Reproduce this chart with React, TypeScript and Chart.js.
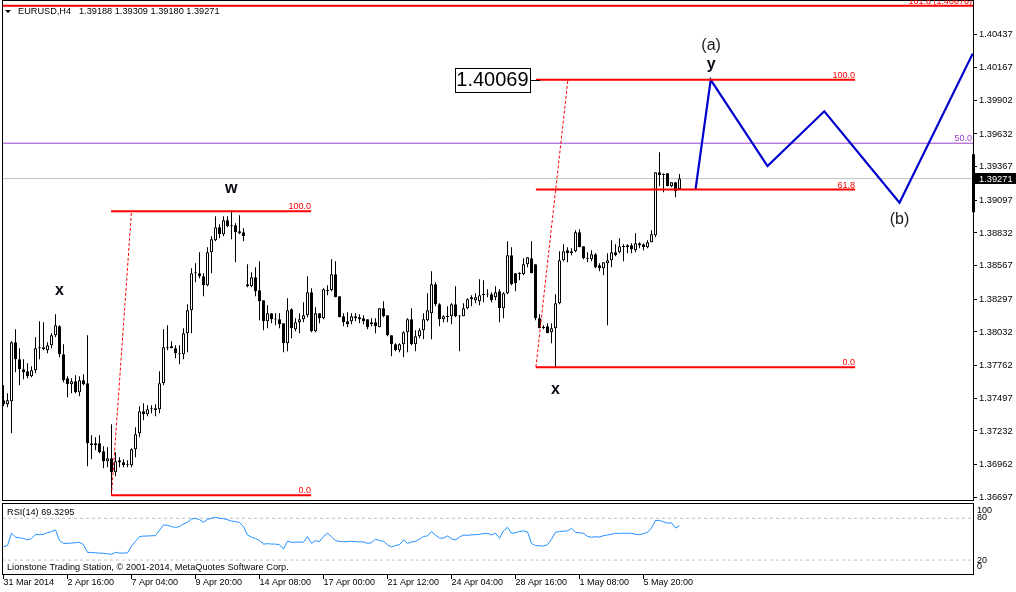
import React, { useEffect, useRef } from 'react';
import { Chart, registerables } from 'chart.js';

Chart.register(...registerables);

const FONT = '"Liberation Sans", Arial, sans-serif';

const symbolName = 'EURUSD,H4';

const openPrices = [
  1.37480, 1.37448, 1.37472, 1.37949, 1.37811, 1.37730, 1.37714, 1.37674, 1.37722, 1.37900,
  1.37908, 1.37884, 1.37924, 1.38005, 1.38078, 1.37852, 1.37658, 1.37609, 1.37633, 1.37545,
  1.37642, 1.37617, 1.37133, 1.37133, 1.37133, 1.37068, 1.36987, 1.37011, 1.36898, 1.36979,
  1.36979, 1.36955, 1.36955, 1.37084, 1.37213, 1.37391, 1.37367, 1.37407, 1.37399, 1.37407,
  1.37617, 1.37900, 1.37916, 1.37900, 1.37860, 1.37852, 1.38021, 1.38207, 1.38506, 1.38506,
  1.38482, 1.38409, 1.38676, 1.38773, 1.38878, 1.38821, 1.38934, 1.38894, 1.38894, 1.38845,
  1.38837, 1.38417, 1.38401, 1.38474, 1.38369, 1.38288, 1.38118, 1.38183, 1.38134, 1.38134,
  1.38102, 1.37941, 1.38215, 1.38054, 1.38110, 1.38134, 1.38167, 1.38353, 1.38038, 1.38183,
  1.38143, 1.38369, 1.38369, 1.38498, 1.38320, 1.38159, 1.38118, 1.38118, 1.38159, 1.38151,
  1.38143, 1.38134, 1.38094, 1.38110, 1.38070, 1.38223, 1.38167, 1.38005, 1.37932, 1.37884,
  1.37932, 1.38029, 1.38134, 1.37932, 1.37997, 1.38046, 1.38126, 1.38183, 1.38417, 1.38256,
  1.38134, 1.38159, 1.38159, 1.38256, 1.38159, 1.38159, 1.38223, 1.38296, 1.38288, 1.38280,
  1.38337, 1.38337, 1.38337, 1.38312, 1.38361, 1.38223, 1.38345, 1.38652, 1.38506, 1.38506,
  1.38498, 1.38579, 1.38627, 1.38579, 1.38143, 1.38070, 1.38078, 1.38029, 1.38062, 1.38264,
  1.38611, 1.38692, 1.38668, 1.38684, 1.38837, 1.38724, 1.38627, 1.38619, 1.38660, 1.38571,
  1.38547, 1.38587, 1.38611, 1.38676, 1.38676, 1.38724, 1.38716, 1.38732, 1.38692, 1.38748,
  1.38740, 1.38716, 1.38757, 1.38813, 1.39322, 1.39306, 1.39314, 1.39209, 1.39241, 1.39188,
];

const highPrices = [
  1.37601, 1.37537, 1.37957, 1.38054, 1.37900, 1.37811, 1.37779, 1.37755, 1.37989, 1.38118,
  1.38110, 1.37949, 1.38021, 1.38175, 1.38086, 1.37932, 1.37674, 1.37658, 1.37682, 1.37674,
  1.37690, 1.38005, 1.37197, 1.37181, 1.37197, 1.37108, 1.37100, 1.37286, 1.37060, 1.37019,
  1.37003, 1.36995, 1.37092, 1.37262, 1.37431, 1.37456, 1.37440, 1.37440, 1.37448, 1.37714,
  1.38054, 1.38086, 1.37957, 1.37924, 1.37924, 1.38062, 1.38256, 1.38547, 1.38587, 1.38676,
  1.38506, 1.38716, 1.38805, 1.38967, 1.38902, 1.38967, 1.38967, 1.39015, 1.38910, 1.38975,
  1.38870, 1.38579, 1.38514, 1.38555, 1.38603, 1.38288, 1.38248, 1.38183, 1.38183, 1.38183,
  1.38102, 1.38304, 1.38223, 1.38143, 1.38183, 1.38272, 1.38482, 1.38385, 1.38231, 1.38183,
  1.38385, 1.38409, 1.38619, 1.38603, 1.38320, 1.38183, 1.38191, 1.38183, 1.38183, 1.38175,
  1.38167, 1.38134, 1.38143, 1.38143, 1.38223, 1.38280, 1.38167, 1.38005, 1.37941, 1.37941,
  1.38038, 1.38143, 1.38223, 1.38046, 1.38062, 1.38183, 1.38345, 1.38522, 1.38433, 1.38264,
  1.38167, 1.38240, 1.38264, 1.38401, 1.38167, 1.38264, 1.38304, 1.38328, 1.38345, 1.38458,
  1.38450, 1.38377, 1.38353, 1.38401, 1.38377, 1.38353, 1.38765, 1.38716, 1.38506, 1.38514,
  1.38627, 1.38636, 1.38765, 1.38579, 1.38175, 1.38086, 1.38102, 1.38102, 1.38337, 1.38684,
  1.38740, 1.38716, 1.38708, 1.38854, 1.38862, 1.38724, 1.38676, 1.38692, 1.38668, 1.38587,
  1.38595, 1.38668, 1.38773, 1.38740, 1.38789, 1.38740, 1.38740, 1.38748, 1.38829, 1.38757,
  1.38748, 1.38773, 1.38854, 1.39322, 1.39484, 1.39314, 1.39314, 1.39241, 1.39241, 1.39309,
];

const lowPrices = [
  1.37431, 1.37423, 1.37213, 1.37706, 1.37601, 1.37650, 1.37658, 1.37666, 1.37698, 1.37811,
  1.37884, 1.37860, 1.37900, 1.37989, 1.37827, 1.37625, 1.37504, 1.37537, 1.37537, 1.37512,
  1.37601, 1.36947, 1.37003, 1.37076, 1.37052, 1.36931, 1.36939, 1.36712, 1.36866, 1.36939,
  1.36939, 1.36939, 1.36939, 1.37020, 1.37181, 1.37318, 1.37351, 1.37375, 1.37351, 1.37375,
  1.37601, 1.37884, 1.37900, 1.37819, 1.37771, 1.37811, 1.37868, 1.38021, 1.38433, 1.38466,
  1.38320, 1.38401, 1.38506, 1.38765, 1.38789, 1.38805, 1.38878, 1.38781, 1.38595, 1.38821,
  1.38765, 1.38393, 1.38393, 1.38320, 1.38126, 1.38046, 1.38062, 1.38102, 1.38086, 1.38062,
  1.37868, 1.37876, 1.37981, 1.38038, 1.38021, 1.38110, 1.38151, 1.38029, 1.38029, 1.38102,
  1.38134, 1.38328, 1.38361, 1.38312, 1.38151, 1.38078, 1.38070, 1.38094, 1.38118, 1.38102,
  1.38094, 1.38054, 1.38078, 1.38021, 1.38070, 1.38151, 1.37997, 1.37836, 1.37876, 1.37868,
  1.37827, 1.37868, 1.37924, 1.37876, 1.37981, 1.37973, 1.38118, 1.37973, 1.38240, 1.38078,
  1.38110, 1.38110, 1.38094, 1.38151, 1.37876, 1.38159, 1.38215, 1.38240, 1.38264, 1.38248,
  1.38272, 1.38312, 1.38272, 1.38288, 1.38110, 1.38143, 1.38337, 1.38409, 1.38361, 1.38450,
  1.38490, 1.38555, 1.38506, 1.38126, 1.38062, 1.38054, 1.38021, 1.37941, 1.37747, 1.38256,
  1.38603, 1.38595, 1.38652, 1.38676, 1.38716, 1.38619, 1.38595, 1.38603, 1.38547, 1.38522,
  1.38490, 1.38086, 1.38555, 1.38644, 1.38668, 1.38603, 1.38668, 1.38668, 1.38676, 1.38708,
  1.38692, 1.38708, 1.38757, 1.38797, 1.39209, 1.39161, 1.39209, 1.39201, 1.39120, 1.39180,
];

const closePrices = [
  1.37448, 1.37480, 1.37949, 1.37811, 1.37730, 1.37706, 1.37674, 1.37722, 1.37900, 1.37908,
  1.37892, 1.37924, 1.38005, 1.38086, 1.37852, 1.37642, 1.37609, 1.37633, 1.37545, 1.37642,
  1.37609, 1.37133, 1.37116, 1.37116, 1.37060, 1.36987, 1.37011, 1.36898, 1.36987, 1.36995,
  1.36955, 1.36963, 1.37084, 1.37205, 1.37391, 1.37367, 1.37407, 1.37415, 1.37415, 1.37617,
  1.37908, 1.37908, 1.37900, 1.37860, 1.37852, 1.38021, 1.38207, 1.38506, 1.38514, 1.38482,
  1.38409, 1.38676, 1.38781, 1.38878, 1.38821, 1.38934, 1.38886, 1.38886, 1.38837, 1.38829,
  1.38805, 1.38401, 1.38474, 1.38361, 1.38280, 1.38118, 1.38183, 1.38134, 1.38138, 1.38094,
  1.37941, 1.38207, 1.38062, 1.38110, 1.38134, 1.38167, 1.38353, 1.38038, 1.38183, 1.38143,
  1.38377, 1.38365, 1.38498, 1.38312, 1.38151, 1.38110, 1.38094, 1.38159, 1.38143, 1.38134,
  1.38118, 1.38070, 1.38110, 1.38078, 1.38223, 1.38159, 1.38005, 1.37932, 1.37884, 1.37932,
  1.38029, 1.38134, 1.37932, 1.37997, 1.38046, 1.38134, 1.38207, 1.38417, 1.38256, 1.38134,
  1.38159, 1.38155, 1.38256, 1.38159, 1.38163, 1.38223, 1.38296, 1.38312, 1.38312, 1.38328,
  1.38333, 1.38341, 1.38288, 1.38353, 1.38223, 1.38345, 1.38652, 1.38417, 1.38425, 1.38502,
  1.38579, 1.38636, 1.38506, 1.38143, 1.38062, 1.38066, 1.38021, 1.38062, 1.38264, 1.38611,
  1.38684, 1.38668, 1.38684, 1.38837, 1.38716, 1.38627, 1.38619, 1.38660, 1.38555, 1.38547,
  1.38595, 1.38611, 1.38676, 1.38652, 1.38724, 1.38720, 1.38732, 1.38700, 1.38748, 1.38732,
  1.38716, 1.38757, 1.38821, 1.39322, 1.39298, 1.39302, 1.39209, 1.39241, 1.39169, 1.39271,
];

const rsiValues = [
  39, 41, 58.5, 53, 52, 51, 49, 51, 57, 56.5,
  57, 59.5, 61, 63.3, 48, 44, 44, 44.5, 45, 45.6,
  42, 31, 31, 30.5, 30, 29.7, 29, 28.3, 31, 30,
  30, 30.5, 40, 47, 53.7, 54.5, 54.5, 55, 55, 63,
  70.5, 70, 68, 67, 68, 72, 74.3, 79, 80, 78,
  74.3, 78.5, 80, 81.5, 80, 79.5, 78, 76, 75.3, 74,
  68, 56, 52.8, 51, 48, 43, 43.5, 43, 43, 42,
  36, 47, 45.5, 45.7, 46, 45.5, 53.7, 44, 48, 46.5,
  54, 58.5, 53.5, 48, 46.8, 46.3, 46.6, 46.9, 46.4, 46.2,
  46, 44, 45, 50, 48, 47, 42, 39, 41, 42,
  49, 44, 46, 47, 50, 54, 54.7, 61, 56, 51.5,
  51.5, 54.7, 50.5, 49, 53, 56, 55.6, 56.2, 56.5, 57,
  58, 58.5, 56, 58.5, 51.3, 62, 67, 58.5, 59.5, 61,
  62, 60.5, 44, 40.8, 40.5, 40.2, 42, 50, 60, 61,
  61.5, 61.8, 65.7, 60, 59, 58.5, 54, 52.8, 53.5, 53.2,
  55, 56, 57, 58.5, 58.2, 58.7, 58.4, 58.6, 57, 56.5,
  58, 60, 66, 77, 77, 75, 73, 73.5, 66, 69.33,
];
const rsiLevels = [80, 20];
const rsiAxisLabels = ['100', '80', '20', '0'];
const rsiAxisValues = [100, 80, 20, 0];
const rsiTitle = 'RSI(14) 69.3295';
const copyrightText = 'Lionstone Trading Station, \u00A9 2001-2014, MetaQuotes Software Corp.';

const timeLabels = [
  '31 Mar 2014', '2 Apr 16:00', '7 Apr 04:00', '9 Apr 20:00', '14 Apr 08:00', '17 Apr 00:00',
  '21 Apr 12:00', '24 Apr 04:00', '28 Apr 16:00', '1 May 08:00', '5 May 20:00',
];
const timeLabelBars = [0, 16, 32, 48, 64, 80, 96, 112, 128, 144, 160];

const priceTicks = [
  1.40437, 1.40167, 1.39902, 1.39632, 1.39367, 1.39097, 1.38832, 1.38567, 1.38297, 1.38032,
  1.37762, 1.37497, 1.37232, 1.36962, 1.36697,
];
const currentPrice = 1.39271;
const axisMarkPrices = [1.39468, 1.38999];

const projectionBars = [173, 176.8, 191, 205.2, 224, 242.3];
const projectionPrices = [1.39182, 1.40069, 1.39373, 1.39815, 1.39077, 1.40281];

const fib1Bars = [26.9, 76.9];
const fib1Levels = [1.39007, 1.36712];
const fib1Names = ['100.0', '0.0'];
const fib1DiagBars = [27, 32];
const fib1DiagPrices = [1.36712, 1.39007];

const fib2Bars = [133.1, 212.9];
const fib2Levels = [1.40069, 1.39182, 1.37747];
const fib2Names = ['100.0', '61.8', '0.0'];
const fib2DiagBars = [133.1, 141.1];
const fib2DiagPrices = [1.37747, 1.40069];
const priceBoxBars = [131.6, 134.1];

const purpleLevel = 1.39557;
const purpleName = '50.0';
const topLevel = 1.40668;
const topName = '161.8 (1.40676)';

const waveTexts = ['x', 'w', 'x', '(a)', 'y', '(b)'];
const waveBars = [14, 56.9, 138, 176.9, 176.9, 224];
const wavePrices = [1.38328, 1.39153, 1.37533, 1.40308, 1.40155, 1.38906];
const waveBold = [true, true, true, false, true, false];

const X_MIN = -0.375;
const X_MAX = 242.375;
const PRICE_MIN = 1.36674;
const PRICE_MAX = 1.4069;
const RSI_MAX = 106.3;

function hline(xs: number[], level: number) {
  return [{ x: xs[0], y: level }, { x: xs[1], y: level }];
}

function noPad(s: any) {
  s.paddingTop = 0;
  s.paddingBottom = 0;
  s.paddingLeft = 0;
  s.paddingRight = 0;
}

export default function App() {
  const ref = useRef<HTMLCanvasElement | null>(null);

  useEffect(() => {
    const canvas = ref.current;
    if (!canvas) return;
    const n = openPrices.length;
    const idx = Array.from({ length: n }, (_, i) => i);

    const wickData = idx.map((i) => ({
      x: i,
      y: [
        Math.min(lowPrices[i], openPrices[i], closePrices[i]),
        Math.max(highPrices[i], openPrices[i], closePrices[i]),
      ],
    }));
    const bodyData = idx.map((i) => {
      let lo = Math.min(openPrices[i], closePrices[i]);
      let hi = Math.max(openPrices[i], closePrices[i]);
      if (hi - lo < 0.00005) {
        const m = (hi + lo) / 2;
        lo = m - 0.00004;
        hi = m + 0.00004;
      }
      return { x: i, y: [lo, hi] };
    });
    const bodyColors = idx.map((i) => (closePrices[i] > openPrices[i] ? '#ffffff' : '#000000'));

    const full = [X_MIN, X_MAX];
    const redLine = (data: any[], dash: number[] = [], width = 2) => ({
      type: 'line',
      data,
      yAxisID: 'y',
      borderColor: '#ff0000',
      borderWidth: width,
      borderDash: dash,
      pointRadius: 0,
      tension: 0,
      order: 1,
    });

    const datasets: any[] = [
      {
        type: 'line',
        data: hline(full, currentPrice),
        yAxisID: 'y',
        borderColor: '#c0c0c0',
        borderWidth: 1,
        pointRadius: 0,
        order: 10,
      },
      {
        type: 'line',
        data: hline(full, purpleLevel),
        yAxisID: 'y',
        borderColor: '#9b3fd0',
        borderWidth: 1,
        pointRadius: 0,
        order: 10,
      },
      ...rsiLevels.map((lv) => ({
        type: 'line',
        data: hline(full, lv),
        yAxisID: 'rsi',
        borderColor: '#c0c0c0',
        borderWidth: 1,
        borderDash: [3, 3],
        pointRadius: 0,
        order: 10,
      })),
      {
        type: 'bar',
        data: wickData,
        yAxisID: 'y',
        backgroundColor: '#000000',
        barThickness: 1,
        grouped: false,
        borderWidth: 0,
        inflateAmount: 0,
        order: 5,
      },
      {
        type: 'bar',
        data: bodyData,
        yAxisID: 'y',
        backgroundColor: bodyColors,
        borderColor: '#000000',
        borderWidth: 1,
        borderSkipped: false,
        barThickness: 3,
        grouped: false,
        inflateAmount: 0,
        order: 4,
      },
      {
        type: 'line',
        data: idx.map((i) => ({ x: i, y: rsiValues[i] })),
        yAxisID: 'rsi',
        borderColor: '#1e90ff',
        borderWidth: 1,
        pointRadius: 0,
        tension: 0,
        order: 3,
      },
      {
        type: 'line',
        data: projectionBars.map((b, k) => ({ x: b, y: projectionPrices[k] })),
        yAxisID: 'y',
        borderColor: '#0000cd',
        borderWidth: 2.2,
        pointRadius: 0,
        tension: 0,
        order: 2,
      },
      redLine(hline(full, topLevel)),
      ...fib1Levels.map((lv) => redLine(hline(fib1Bars, lv))),
      ...fib2Levels.map((lv) => redLine(hline(fib2Bars, lv))),
      redLine(fib1DiagBars.map((b, k) => ({ x: b, y: fib1DiagPrices[k] })), [3, 2], 1),
      redLine(fib2DiagBars.map((b, k) => ({ x: b, y: fib2DiagPrices[k] })), [3, 2], 1),
    ];

    const overlay = {
      id: 'overlay',
      afterDraw(chart: any) {
        const { ctx } = chart;
        const xs = chart.scales.x;
        const ys = chart.scales.y;
        const rs = chart.scales.rsi;
        ctx.save();

        // panel frames
        ctx.strokeStyle = '#000';
        ctx.lineWidth = 1;
        ctx.strokeRect(2.5, 0.5, 971, 500);
        ctx.strokeRect(2.5, 503.5, 971, 71);

        // header
        ctx.fillStyle = '#000';
        ctx.beginPath();
        ctx.moveTo(5, 10);
        ctx.lineTo(11, 10);
        ctx.lineTo(8, 13);
        ctx.closePath();
        ctx.fill();
        ctx.font = `9.2px ${FONT}`;
        ctx.textAlign = 'left';
        ctx.textBaseline = 'middle';
        ctx.fillText(symbolName, 18, 11.5);
        const last = openPrices.length - 1;
        ctx.fillText(
          [openPrices[last], highPrices[last], lowPrices[last], closePrices[last]].map((v) => v.toFixed(5)).join(' '),
          79,
          11.5
        );

        // fib labels
        ctx.font = `9px ${FONT}`;
        ctx.textAlign = 'right';
        ctx.textBaseline = 'alphabetic';
        ctx.fillStyle = '#ff0000';
        fib1Levels.forEach((lv, k) => {
          ctx.fillText(fib1Names[k], xs.getPixelForValue(fib1Bars[1]), ys.getPixelForValue(lv) - 2);
        });
        fib2Levels.forEach((lv, k) => {
          ctx.fillText(fib2Names[k], xs.getPixelForValue(fib2Bars[1]), ys.getPixelForValue(lv) - 2);
        });
        ctx.fillText(topName, xs.getPixelForValue(X_MAX) - 1, ys.getPixelForValue(topLevel) - 2);
        ctx.fillStyle = '#9b3fd0';
        ctx.fillText(purpleName, xs.getPixelForValue(X_MAX) - 1, ys.getPixelForValue(purpleLevel) - 2);

        // price box
        const bx = xs.getPixelForValue(priceBoxBars[0]);
        const bx2 = xs.getPixelForValue(priceBoxBars[1]);
        const by = ys.getPixelForValue(fib2Levels[0]);
        ctx.fillStyle = '#fff';
        ctx.fillRect(bx - 75, by - 12, 75, 24);
        ctx.strokeStyle = '#000';
        ctx.strokeRect(Math.round(bx - 75) + 0.5, Math.round(by - 12) + 0.5, 75, 24);
        ctx.beginPath();
        ctx.moveTo(Math.round(bx), Math.round(by) + 0.5);
        ctx.lineTo(bx2, Math.round(by) + 0.5);
        ctx.stroke();
        ctx.fillStyle = '#000';
        ctx.font = `20px ${FONT}`;
        ctx.textAlign = 'center';
        ctx.textBaseline = 'middle';
        ctx.fillText(fib2Levels[0].toFixed(5), bx - 37.5, by + 1);

        // wave labels
        ctx.textBaseline = 'alphabetic';
        waveTexts.forEach((t, k) => {
          ctx.font = `${waveBold[k] ? 'bold ' : ''}16px ${FONT}`;
          ctx.fillStyle = waveBold[k] ? '#0a0a14' : '#1a1a1a';
          ctx.fillText(t, xs.getPixelForValue(waveBars[k]), ys.getPixelForValue(wavePrices[k]));
        });

        // rsi texts
        ctx.fillStyle = '#000';
        ctx.font = `9.2px ${FONT}`;
        ctx.textAlign = 'left';
        ctx.textBaseline = 'middle';
        ctx.fillText(rsiTitle, 7, 512.5);
        ctx.fillText(copyrightText, 7, 567);
        ctx.font = `9px ${FONT}`;
        const rsiOffsets = [6.3, -0.3, 0, -7];
        rsiAxisValues.forEach((v, k) => {
          ctx.fillText(rsiAxisLabels[k], 977, rs.getPixelForValue(v) + rsiOffsets[k]);
        });

        // current price marker
        const cy = ys.getPixelForValue(currentPrice);
        const m1 = ys.getPixelForValue(axisMarkPrices[0]);
        const m2 = ys.getPixelForValue(axisMarkPrices[1]);
        ctx.fillStyle = '#000';
        ctx.fillRect(972, m1, 3, m2 - m1);
        ctx.fillRect(974, Math.round(cy - 5.5), 42, 11);
        ctx.fillStyle = '#fff';
        ctx.font = `9.3px ${FONT}`;
        ctx.fillText(currentPrice.toFixed(5), 979, cy + 0.5);

        ctx.restore();
      },
    };

    const chart = new Chart(canvas, {
      type: 'bar',
      data: { datasets },
      options: {
        responsive: false,
        animation: false,
        events: [],
        layout: { padding: { left: 2, top: 3, right: 0, bottom: 0 } },
        plugins: {
          legend: { display: false },
          tooltip: { enabled: false },
          title: { display: false },
        },
        scales: {
          x: {
            type: 'linear',
            min: X_MIN,
            max: X_MAX,
            offset: false,
            position: 'bottom',
            afterBuildTicks: (s: any) => {
              s.ticks = timeLabelBars.map((v) => ({ value: v }));
            },
            afterFit: (s: any) => {
              s.height = 18;
              noPad(s);
            },
            ticks: {
              autoSkip: false,
              maxRotation: 0,
              minRotation: 0,
              align: 'start',
              padding: 0,
              color: '#000',
              font: { family: FONT, size: 9, lineHeight: 0.8 },
              callback: (_v: any, i: number) => timeLabels[i] ?? '',
            },
            grid: { display: true, drawOnChartArea: false, drawTicks: true, tickLength: 5, color: '#000', offset: false },
            border: { display: false },
          },
          y: {
            type: 'linear',
            position: 'right',
            stack: 'pane',
            stackWeight: 497,
            min: PRICE_MIN,
            max: PRICE_MAX,
            afterBuildTicks: (s: any) => {
              s.ticks = priceTicks.map((v) => ({ value: v }));
            },
            afterFit: (s: any) => {
              s.width = 43;
              noPad(s);
            },
            ticks: {
              autoSkip: false,
              padding: 2,
              color: '#000',
              font: { family: FONT, size: 9.3 },
              callback: (v: any) => Number(v).toFixed(5),
            },
            grid: { display: true, drawOnChartArea: false, drawTicks: true, tickLength: 4, color: '#000' },
            border: { display: false },
          },
          rsi: {
            type: 'linear',
            position: 'right',
            stack: 'pane',
            stackWeight: 74,
            min: 0,
            max: RSI_MAX,
            afterFit: (s: any) => {
              s.width = 43;
              noPad(s);
            },
            ticks: { display: false },
            grid: { display: false },
            border: { display: false },
          },
        },
      } as any,
      plugins: [overlay],
    } as any);

    return () => chart.destroy();
  }, []);

  return (
    <div style={{ position: 'absolute', left: 0, top: 0, width: 1016, height: 592, background: '#fff' }}>
      <canvas ref={ref} width={1016} height={592} style={{ display: 'block' }} />
    </div>
  );
}
